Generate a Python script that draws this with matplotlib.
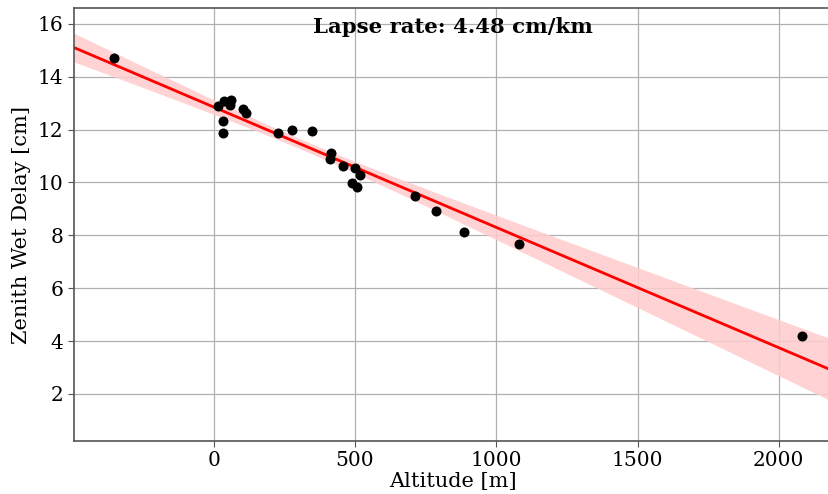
import numpy as np
import matplotlib
matplotlib.use("Agg")
import matplotlib.pyplot as plt

altitude = [-354, 15, 35, 60, 58, 34, 33, 104, 114, 228, 276, 349, 416, 410,
            456, 499, 517, 488, 507, 712, 787, 884, 1079, 2083]
zwd = [14.71, 12.90, 13.07, 13.12, 12.94, 12.32, 11.88, 12.78, 12.63, 11.88,
       11.99, 11.96, 11.12, 10.89, 10.62, 10.56, 10.30, 9.97, 9.84, 9.49, 8.92,
       8.12, 7.66, 4.21]
title_text = "Lapse rate: 4.48 cm/km"
xticks = [0, 500, 1000, 1500, 2000]
yticks = [2, 4, 6, 8, 10, 12, 14, 16]

x = np.array(altitude, float)
y = np.array(zwd, float)

plt.rcParams['font.family'] = ['DejaVu Serif']

W, H = 829, 494
fig = plt.figure(figsize=(W / 100, H / 100), dpi=100)
ax = fig.add_axes([74 / W, (H - 441) / H, (831 - 74) / W, (441 - 8) / H])

xlim = (-495, 2185)
ylim = (0.22, 16.6)

# linear fit with a heteroscedasticity-robust (HC1) 95% confidence band
n = len(x)
X = np.column_stack([np.ones(n), x])
XtX_inv = np.linalg.inv(X.T @ X)
beta = XtX_inv @ X.T @ y
resid = y - X @ beta
meat = X.T @ np.diag(resid ** 2) @ X * n / (n - 2)
cov = XtX_inv @ meat @ XtX_inv
xs = np.linspace(xlim[0], xlim[1], 300)
Xs = np.column_stack([np.ones_like(xs), xs])
ys = Xs @ beta
se = np.sqrt(np.einsum('ij,jk,ik->i', Xs, cov, Xs))
tval = 2.074
lo = ys - tval * se
hi = ys + tval * se

ax.fill_between(xs, lo, hi, color='#ffcccc', alpha=0.85, linewidth=0, zorder=1)
ax.plot(xs, ys, color='red', lw=2, zorder=2)
ax.scatter(x, y, s=52, color='black', zorder=3, linewidths=0)

ax.set_xlim(*xlim)
ax.set_ylim(*ylim)
ax.set_xticks(xticks)
ax.set_yticks(yticks)
ax.grid(True, color='#b0b0b0', lw=0.9)
ax.set_axisbelow(True)
for sp in ax.spines.values():
    sp.set_color('#555555')
    sp.set_linewidth(1.2)
ax.tick_params(labelsize=14.5, color='#555555', length=4)
ax.set_xlabel('Altitude [m]', fontsize=15, labelpad=1)
ax.set_ylabel('Zenith Wet Delay [cm]', fontsize=15, labelpad=5)
ax.text(0.5, 0.955, title_text, transform=ax.transAxes, ha='center', va='center',
        fontsize=15.3, fontweight='bold')

fig.savefig('out.png', dpi=100)
